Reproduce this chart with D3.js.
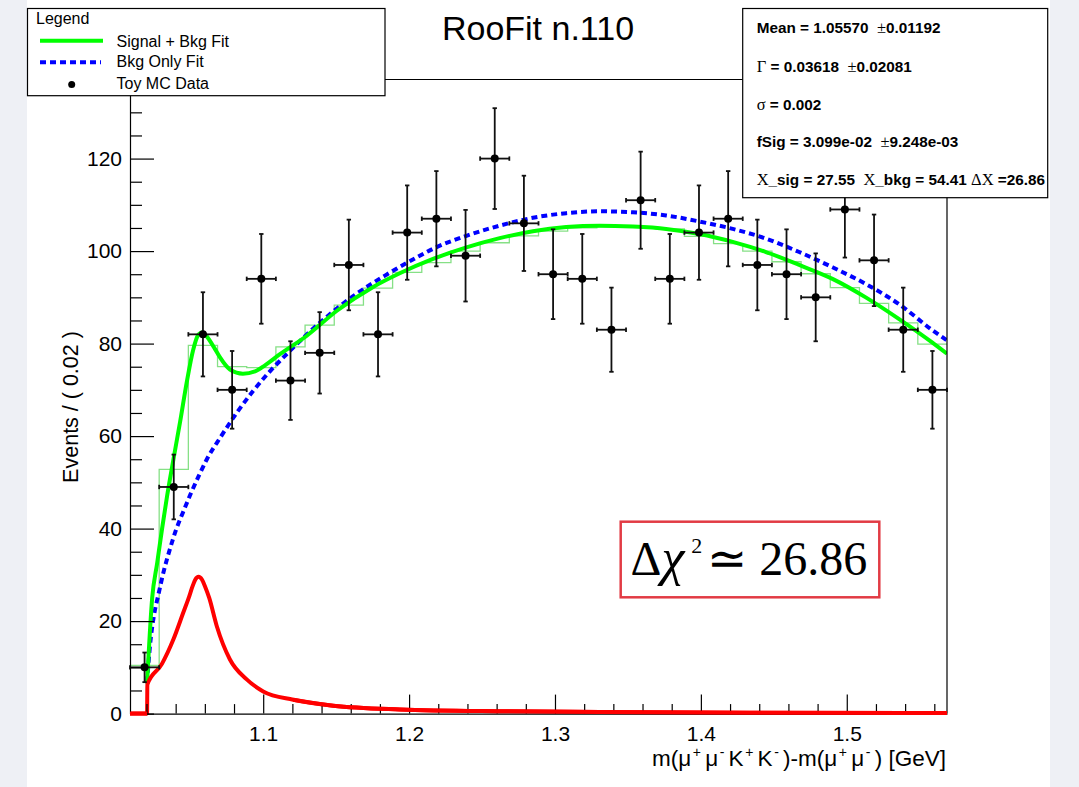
<!DOCTYPE html>
<html><head><meta charset="utf-8">
<script src="https://cdn.jsdelivr.net/npm/d3@7"></script>
<style>
html,body{margin:0;padding:0;background:#fff;}
svg{display:block;}
text{white-space:pre;}
</style></head><body>
<svg id="c" width="1079" height="787"></svg>
<script>
// ---------------- data ----------------
const xDomain = [1.0087, 1.5687];
const yDomain = [0, 137.1];
const binWidth = 0.02;
const xMajorTicks = [1.1, 1.2, 1.3, 1.4, 1.5];
const xMinorTicks = [1.02,1.04,1.06,1.08,1.12,1.14,1.16,1.18,1.22,1.24,1.26,1.28,1.32,1.34,1.36,1.38,1.42,1.44,1.46,1.48,1.52,1.54,1.56];
const yMajorTicks = [0, 20, 40, 60, 80, 100, 120];
const yMinorTicks = [5,10,15,25,30,35,45,50,55,65,70,75,85,90,95,105,110,115,125,130,135];

const binCenters = [1.0187,1.0387,1.0587,1.0787,1.0987,1.1187,1.1387,1.1587,1.1787,1.1987,1.2187,1.2387,1.2587,1.2787,
                    1.2987,1.3187,1.3387,1.3587,1.3787,1.3987,1.4187,1.4387,1.4587,1.4787,1.4987,1.5187,1.5387,1.5587];
const counts = [10,49,82,70,94,72,78,97,82,104,107,99,120,106,95,94,83,111,94,104,107,97,95,90,109,98,83,70];
const countErr = [3.2,7.0,9.1,8.4,9.7,8.5,8.8,9.8,9.1,10.2,10.3,9.9,10.9,10.3,9.7,9.7,9.1,10.5,9.7,10.2,10.3,9.8,9.7,9.5,10.4,9.9,9.1,8.4];

// binned signal+background fit (pale green steps)
const fitBins = [10.4,52.8,79.6,75.0,74.8,79.3,84.0,88.3,92.0,95.4,97.5,100.0,101.8,103.3,
                 104.3,105.0,105.3,105.2,104.8,103.2,101.6,100.0,97.7,95.1,92.1,88.7,84.5,79.9];

// Signal + Bkg fit curve
const sbX = [1.0204,1.0239,1.0273,1.0307,1.0341,1.0382,1.0430,1.0478,1.0519,1.0553,1.0581,1.0608,1.0635,1.0670,1.0704,
             1.0772,1.0861,1.0944,1.1012,1.1115,1.1299,1.1505,1.1751,1.1936,1.2164,1.2393,1.2621,1.2849,1.3077,1.3306,
             1.3534,1.3762,1.3990,1.4218,1.4446,1.4674,1.4902,1.5130,1.5359,1.5587,1.5687];
const sbY = [6.5,25,32.5,40,47,54.5,63,72,78.5,81.8,82.4,81.8,80.6,78.8,77.0,
             74.4,73.5,74.0,75.3,77.7,81.7,87.1,92.2,95.2,98.3,100.8,102.8,104.3,105.2,105.5,
             105.3,104.8,103.7,102.0,99.8,97.0,94.0,90.0,85.3,80.2,77.8];

// Bkg only fit curve
const bkgX = [1.0204,1.0225,1.0250,1.0280,1.0320,1.0360,1.0400,1.0450,1.0500,1.0560,1.0614,1.0704,1.0818,1.0932,1.1046,
              1.1160,1.1388,1.1614,1.1845,1.2073,1.2164,1.2393,1.2621,1.2849,1.3077,1.3306,1.3534,1.3762,1.3990,1.4218,
              1.4446,1.4674,1.4902,1.5130,1.5359,1.5587,1.5687];
const bkgY = [6.7,15,21,25.5,31,35.5,39.5,43.5,47.3,51.5,55,59.6,65,69.8,74.0,
              77.7,84.5,90.2,94.9,99.0,100.5,103.3,105.5,107.2,108.2,108.6,108.4,107.7,106.4,104.8,
              102.7,99.8,96.5,92.9,88.5,82.9,80.7];

// Signal component
const sigX = [1.0087,1.0204,1.0206,1.0305,1.0384,1.0453,1.0487,1.0519,1.0535,1.0557,1.0580,1.0600,1.0630,1.0681,1.0772,
              1.0887,1.1000,1.1206,1.1480,1.1936,1.2621,1.3306,1.4332,1.5687];
const sigY = [0,0,6.3,10.7,16,21.9,24.8,27.8,29.0,29.6,29.0,27.6,25.0,19.0,11.7,
              7.4,4.8,3.0,1.7,0.9,0.5,0.35,0.2,0.12];

const legendLabels = ["Signal + Bkg Fit", "Bkg Only Fit", "Toy MC Data"];
const titleText = "RooFit n.110";

// ---------------- drawing ----------------
const svg = d3.select('#c');
svg.append('rect').attr('width',1079).attr('height',787).attr('fill','#fff');
svg.append('rect').attr('x',0).attr('y',0).attr('width',27).attr('height',787).attr('fill','#eef0f5');
svg.append('rect').attr('x',1050).attr('y',0).attr('width',29).attr('height',787).attr('fill','#eef0f5');

const F = {left:130, right:947, top:79.5, bottom:713.6};
const x = d3.scaleLinear().domain(xDomain).range([F.left, F.right]);
const y = d3.scaleLinear().domain(yDomain).range([F.bottom, F.top]);

const SANS = "'Liberation Sans', Arial, Helvetica, sans-serif";
const SERIF = "'Liberation Serif', 'Times New Roman', serif";

svg.append('clipPath').attr('id','clip').append('rect')
  .attr('x',F.left).attr('y',F.top).attr('width',F.right-F.left).attr('height',F.bottom-F.top+3);

const plot = svg.append('g').attr('clip-path','url(#clip)');

// binned fit steps
const stepPts = binCenters.map((c,i)=>[c-binWidth/2, fitBins[i]]);
stepPts.push([xDomain[1], fitBins[fitBins.length-1]]);
plot.append('path')
  .attr('d', d3.line().x(d=>x(d[0])).y(d=>y(d[1])).curve(d3.curveStepAfter)(stepPts))
  .attr('fill','none').attr('stroke','#86e086').attr('stroke-width',1.3);

const line = d3.line().x(d=>x(d[0])).y(d=>y(d[1])).curve(d3.curveMonotoneX);

plot.append('path').attr('d', line(bkgX.map((v,i)=>[v,bkgY[i]])))
  .attr('fill','none').attr('stroke','#0000ff').attr('stroke-width',4).attr('stroke-dasharray','6,4');
plot.append('path').attr('d', line(sbX.map((v,i)=>[v,sbY[i]])))
  .attr('fill','none').attr('stroke','#00ff00').attr('stroke-width',4);
plot.append('path').attr('d', line(sigX.map((v,i)=>[v,sigY[i]])))
  .attr('fill','none').attr('stroke','#ff0000').attr('stroke-width',4);

// data points
const pts = svg.append('g').attr('stroke','#111').attr('stroke-width',1.8);
binCenters.forEach((c,i)=>{
  const cx = x(c), cy = y(counts[i]);
  const x0 = x(c-binWidth/2), x1 = x(c+binWidth/2);
  const yt = y(counts[i]+countErr[i]), yb = y(counts[i]-countErr[i]);
  const g = pts.append('g');
  g.append('line').attr('x1',x0).attr('x2',x1).attr('y1',cy).attr('y2',cy);
  g.append('line').attr('x1',cx).attr('x2',cx).attr('y1',yt).attr('y2',yb);
  g.append('line').attr('x1',cx-2.2).attr('x2',cx+2.2).attr('y1',yt).attr('y2',yt);
  g.append('line').attr('x1',cx-2.2).attr('x2',cx+2.2).attr('y1',yb).attr('y2',yb);
  g.append('line').attr('x1',x0).attr('x2',x0).attr('y1',cy-2.2).attr('y2',cy+2.2);
  g.append('line').attr('x1',x1).attr('x2',x1).attr('y1',cy-2.2).attr('y2',cy+2.2);
  g.append('circle').attr('cx',cx).attr('cy',cy).attr('r',4).attr('fill','#000').attr('stroke','none');
});

// axes
svg.append('g').attr('transform',`translate(0,${F.bottom})`)
  .call(d3.axisBottom(x).tickValues(xMajorTicks).tickSizeInner(-19).tickSizeOuter(0).tickPadding(12).tickFormat(d3.format('.1f')));
svg.append('g').attr('transform',`translate(0,${F.bottom})`)
  .call(d3.axisBottom(x).tickValues(xMinorTicks).tickSizeInner(-9.5).tickSizeOuter(0).tickFormat(''))
  .select('.domain').remove();
svg.append('g').attr('transform',`translate(${F.left},0)`)
  .call(d3.axisLeft(y).tickValues(yMajorTicks).tickSizeInner(-24).tickSizeOuter(0).tickPadding(8));
svg.append('g').attr('transform',`translate(${F.left},0)`)
  .call(d3.axisLeft(y).tickValues(yMinorTicks).tickSizeInner(-12).tickSizeOuter(0).tickFormat(''))
  .select('.domain').remove();
svg.selectAll('.tick line, .domain').attr('stroke','#000').attr('stroke-width',1.2);
svg.selectAll('.tick text').attr('font-family',SANS).attr('font-size',21).attr('fill','#000');

// frame top & right
svg.append('line').attr('x1',F.left).attr('x2',F.right).attr('y1',F.top).attr('y2',F.top).attr('stroke','#000').attr('stroke-width',1.2);
svg.append('line').attr('x1',F.right).attr('x2',F.right).attr('y1',F.top).attr('y2',F.bottom).attr('stroke','#000').attr('stroke-width',1.2);

// red signal redrawn on top of the axis line
svg.append('path').attr('d', line(sigX.map((v,i)=>[v,sigY[i]]).filter(d=>d[0]>1.10)))
  .attr('fill','none').attr('stroke','#ff0000').attr('stroke-width',4).attr('clip-path','url(#clip)');
svg.append('line').attr('x1',x(xDomain[0])).attr('x2',x(1.0204)).attr('y1',y(0)).attr('y2',y(0))
  .attr('stroke','#ff0000').attr('stroke-width',4);

// axis titles
svg.append('text').attr('transform','translate(78,407) rotate(-90)').attr('text-anchor','middle')
  .attr('font-family',SANS).attr('font-size',21.5).text('Events / ( 0.02 )');
const xt = svg.append('text').attr('x',946).attr('y',766).attr('text-anchor','end')
  .attr('font-family',SANS).attr('font-size',22.5);
const sup = (t)=>xt.append('tspan').attr('font-size',14).attr('dy',-9).attr('dx',1.5).text(t);
const base = (t)=>xt.append('tspan').attr('dy',9).attr('dx',4.3).text(t);
xt.append('tspan').text('m(\u03bc');
sup('+'); base('\u03bc'); sup('-');
base('K'); sup('+');
base('K'); sup('-');
base(')-m(\u03bc'); sup('+');
base('\u03bc'); sup('-');
base(') [GeV]');

// title
svg.append('text').attr('x',538).attr('y',40).attr('text-anchor','middle')
  .attr('font-family',SANS).attr('font-size',34).text(titleText);

// legend
const lg = svg.append('g');
lg.append('rect').attr('x',27.5).attr('y',8.5).attr('width',357.5).attr('height',87.2)
  .attr('fill','#fff').attr('stroke','#000').attr('stroke-width',1.2);
lg.append('text').attr('x',36).attr('y',24).attr('font-family',SANS).attr('font-size',16).text('Legend');
lg.append('line').attr('x1',40).attr('x2',103).attr('y1',40.7).attr('y2',40.7).attr('stroke','#00ff00').attr('stroke-width',4);
lg.append('line').attr('x1',40).attr('x2',101).attr('y1',62.3).attr('y2',62.3).attr('stroke','#0000ff').attr('stroke-width',4).attr('stroke-dasharray','6,4');
lg.append('circle').attr('cx',71.7).attr('cy',84.5).attr('r',3.5).attr('fill','#000');
[46.5,67.2,89.2].forEach((b,i)=>{
  lg.append('text').attr('x',116.5).attr('y',b).attr('font-family',SANS).attr('font-size',16).text(legendLabels[i]);
});

// stats box
const sb = svg.append('g');
sb.append('rect').attr('x',742.7).attr('y',8.5).attr('width',305).attr('height',189.2)
  .attr('fill','#fff').attr('stroke','#000').attr('stroke-width',1.2);
const statLines = [
  [['b','Mean = 1.05570  '],['s','\u00b1'],['b','0.01192']],
  [['s','\u0393'],['b',' = 0.03618  '],['s','\u00b1'],['b','0.02081']],
  [['s','\u03c3'],['b',' = 0.002']],
  [['b','fSig = 3.099e-02  '],['s','\u00b1'],['b','9.248e-03']],
  [['s','X'],['b','_sig = 27.55  '],['s','X'],['b','_bkg = 54.41 '],['s','\u0394X'],['b',' =26.86']]
];
const statBase = [33.3,71.7,110,146.7,185];
statLines.forEach((ln,i)=>{
  const t = sb.append('text').attr('x',756.7).attr('y',statBase[i]).attr('font-size',15);
  ln.forEach(([k,s])=>{
    t.append('tspan').attr('font-family', k==='b'?SANS:SERIF)
      .attr('font-weight', k==='b'?'bold':'normal').attr('font-size', k==='b'?15.3:16.5).text(s);
  });
});

// delta chi2 box
const cb = svg.append('g');
cb.append('rect').attr('x',620.7).attr('y',521.7).attr('width',258.6).attr('height',75.6)
  .attr('fill','#fff').attr('stroke','#e23b44').attr('stroke-width',2.5);
const ct = cb.append('text').attr('x',630.5).attr('y',575).attr('font-family',SERIF).attr('font-size',48);
ct.append('tspan').text('\u0394');
ct.append('tspan').attr('font-style','italic').attr('font-size',52).text('\u03c7');
ct.append('tspan').attr('font-size',22).attr('dy',-22).attr('dx',7).text('2');
ct.append('tspan').attr('dy',22).attr('dx',5).text('\u2243 26.86');
</script></body></html>
